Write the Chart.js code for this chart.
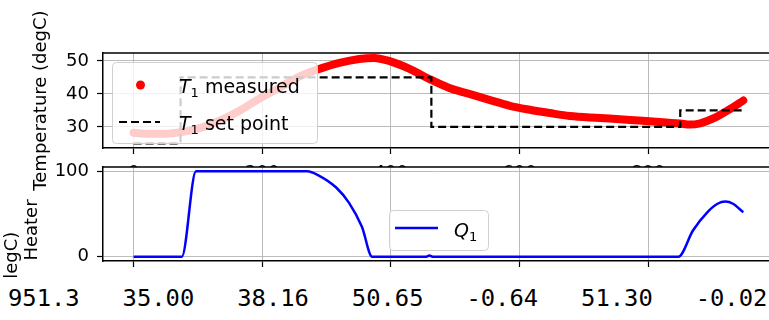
<!DOCTYPE html>
<html>
<head>
<meta charset="utf-8">
<script src="https://cdn.jsdelivr.net/npm/chart.js@4.4.1/dist/chart.umd.min.js"></script>
<style>
html,body{margin:0;padding:0;background:#fff;}
#wrap{position:relative;width:769px;height:320px;overflow:hidden;background:#fff;}
#wrap canvas{position:absolute;left:0;top:0;}
#row{position:absolute;left:0;top:277px;width:761px;height:43px;padding:9px 0 0 8px;margin:0;background:#fff;font-family:"DejaVu Sans Mono",monospace;font-size:23.8px;line-height:24px;white-space:pre;color:#000;}
</style>
</head>
<body>
<div id="wrap">
  <canvas id="topChart" width="800" height="320"></canvas>
  <canvas id="botChart" width="800" height="320"></canvas>
  <div id="row"></div>
</div>
<script>
// ---------------- data ----------------
const t1Time = [0, 23, 47, 67, 86, 109, 133, 164, 195, 226, 257, 285, 320, 351, 374, 397, 429, 460, 491, 522, 553, 585, 616, 647, 678, 725, 772, 818, 850, 865, 881, 904, 928, 948];
const t1Meas = [28.2, 27.9, 27.9, 28.2, 28.8, 30.0, 31.8, 34.8, 38.5, 41.8, 45.2, 47.3, 49.4, 50.6, 50.9, 50.0, 47.6, 44.5, 41.8, 40.0, 38.2, 36.4, 35.2, 34.2, 33.3, 32.7, 32.1, 31.5, 31.0, 30.7, 31.1, 32.8, 35.5, 38.0];

const spTime = [0, 73, 73, 463, 463, 850, 850, 948];
const spVal  = [25, 25, 45, 45, 30, 30, 35, 35];

const q1Time = [0, 75, 97, 270, 288, 315, 335, 355, 371, 455, 460, 465, 847, 870, 892, 908, 920, 932, 948];
const q1Val  = [0, 0, 100, 100, 95, 81, 63, 35, 0, 0, 1.5, 0, 0, 31, 52, 62, 64.5, 62, 52];

const xTicks    = [0, 200, 400, 600, 800];
const tempTicks = [30, 40, 50];
const heatTicks = [0, 100];

const readouts = ['951.3', '35.00', '38.16', '50.65', '-0.64', '51.30', '-0.02'];

const labelT1  = ['T', '1', ' measured'];
const labelSP  = ['T', '1', ' set point'];
const labelQ1  = ['Q', '1', ''];
const yTitleTop = 'Temperature (degC)';
const yTitleBot = ['(degC)', 'Heater'];

// ---------------- helpers ----------------
const FONT = '"DejaVu Sans", sans-serif';
Chart.defaults.font.family = FONT;
Chart.defaults.font.size = 18;
Chart.defaults.color = '#000';

const pts = (xs, ys) => xs.map((x, i) => ({x, y: ys[i]}));
const GRID = 'rgba(176,176,176,0.85)';

function drawMath(ctx, parts, x, y, size) {
  ctx.fillStyle = '#000';
  ctx.textBaseline = 'alphabetic';
  ctx.textAlign = 'left';
  ctx.font = 'italic ' + size + 'px ' + FONT;
  ctx.fillText(parts[0], x, y);
  x += ctx.measureText(parts[0]).width;
  const ss = Math.round(size * 0.7);
  ctx.font = ss + 'px ' + FONT;
  ctx.fillText(parts[1], x, y + size * 0.2);
  x += ctx.measureText(parts[1]).width;
  ctx.font = size + 'px ' + FONT;
  ctx.fillText(parts[2], x, y);
}

function roundBox(ctx, x, y, w, h, r) {
  ctx.beginPath();
  ctx.moveTo(x + r, y);
  ctx.arcTo(x + w, y, x + w, y + h, r);
  ctx.arcTo(x + w, y + h, x, y + h, r);
  ctx.arcTo(x, y + h, x, y, r);
  ctx.arcTo(x, y, x + w, y, r);
  ctx.closePath();
}

function legendPlugin(spec) {
  return {
    id: 'mplLegend',
    afterDatasetsDraw(chart) {
      const ctx = chart.ctx, a = chart.chartArea;
      const bx = a.left + spec.dx, by = a.top + spec.dy;
      ctx.save();
      roundBox(ctx, bx + 0.5, by + 0.5, spec.w, spec.h, 4);
      ctx.fillStyle = 'rgba(255,255,255,0.8)';
      ctx.fill();
      ctx.strokeStyle = '#d0d0d0';
      ctx.lineWidth = 1;
      ctx.stroke();
      spec.rows.forEach(r => {
        const cy = by + r.cy;
        const x0 = bx + spec.h0, x1 = bx + spec.h1;
        if (r.kind === 'dot') {
          ctx.fillStyle = r.color;
          ctx.beginPath();
          ctx.arc((x0 + x1) / 2 + 1, cy, 4.5, 0, Math.PI * 2);
          ctx.fill();
        } else {
          ctx.strokeStyle = r.color;
          ctx.lineWidth = r.width;
          ctx.setLineDash(r.dash || []);
          ctx.beginPath();
          ctx.moveTo(x0, cy);
          ctx.lineTo(x1, cy);
          ctx.stroke();
          ctx.setLineDash([]);
        }
        drawMath(ctx, r.label, bx + spec.tx, cy + r.base, spec.size);
      });
      ctx.restore();
    }
  };
}

const framePlugin = {
  id: 'frame',
  beforeDraw(chart, args, opts) {
    if (opts && opts.fill) {
      const a = chart.chartArea, ctx = chart.ctx;
      ctx.save();
      ctx.fillStyle = '#fff';
      ctx.fillRect(a.left, a.top, a.right - a.left, a.bottom - a.top);
      ctx.restore();
    }
  },
  afterDraw(chart) {
    const a = chart.chartArea, ctx = chart.ctx;
    ctx.save();
    ctx.strokeStyle = '#000';
    ctx.lineWidth = 1.5;
    ctx.beginPath();
    ctx.moveTo(a.left, a.top);
    ctx.lineTo(a.right, a.top);
    ctx.lineTo(a.right, a.bottom);
    ctx.stroke();
    ctx.restore();
  }
};

// rotated side labels of the lower panel (two lines, staggered as in the reference)
const sideLabelPlugin = {
  id: 'sideLabels',
  afterDraw(chart) {
    const ctx = chart.ctx, a = chart.chartArea;
    const spots = [{x: 12, y: a.top + 95}, {x: 32, y: a.top + 63}];
    ctx.save();
    ctx.fillStyle = '#000';
    ctx.font = '18px ' + FONT;
    ctx.textAlign = 'center';
    ctx.textBaseline = 'middle';
    yTitleBot.forEach((txt, i) => {
      ctx.save();
      ctx.translate(spots[i].x, spots[i].y);
      ctx.rotate(-Math.PI / 2);
      ctx.fillText(txt, 0, 0);
      ctx.restore();
    });
    ctx.restore();
  }
};

function xScale(showLabels) {
  return {
    type: 'linear', min: -47.6, max: 998.9,
    afterBuildTicks: s => { s.ticks = xTicks.map(v => ({value: v})); },
    afterFit: s => { s.height = 60; },
    grid: {color: GRID, lineWidth: 1, tickLength: 6, tickColor: '#000', tickWidth: 1.2},
    border: {display: true, color: '#000', width: 1.5},
    ticks: {padding: 9, maxRotation: 0, autoSkip: false, color: showLabels ? '#000' : 'rgba(0,0,0,0)', font: {size: 18}}
  };
}

function yScale(min, max, ticks, title, titlePad) {
  return {
    type: 'linear', min, max,
    afterBuildTicks: s => { s.ticks = ticks.map(v => ({value: v})); },
    afterFit: s => { s.width = 103; },
    grid: {color: GRID, lineWidth: 1, tickLength: 6, tickColor: '#000', tickWidth: 1.2},
    border: {display: true, color: '#000', width: 1.5},
    ticks: {padding: 8, font: {size: 18}},
    title: {display: !!title, text: title || '', font: {size: 18}, padding: {top: titlePad, bottom: 0}, color: '#000'}
  };
}

// ---------------- top chart ----------------
new Chart(document.getElementById('topChart'), {
  type: 'line',
  data: {
    datasets: [
      {label: 'T1 set point', data: pts(spTime, spVal), borderColor: '#000', borderWidth: 2.2,
       borderDash: [8, 4], pointRadius: 0, tension: 0, order: 0},
      {label: 'T1 measured', data: pts(t1Time, t1Meas), borderColor: '#ff0000', borderWidth: 8,
       borderCapStyle: 'round', borderJoinStyle: 'round', pointRadius: 0,
       cubicInterpolationMode: 'monotone', order: 1}
    ]
  },
  options: {
    responsive: false, animation: false, devicePixelRatio: 1,
    layout: {padding: {left: 0, top: 53, right: 24, bottom: 112}},
    plugins: {legend: {display: false}, tooltip: {enabled: false}, frame: {fill: false}},
    scales: {
      x: xScale(true),
      y: yScale(23.6, 52.4, tempTicks, yTitleTop, 31)
    }
  },
  plugins: [framePlugin, legendPlugin({
    dx: 9, dy: 9, w: 205, h: 81, h0: 7, h1: 48, tx: 67, size: 19,
    rows: [
      {kind: 'dot', color: '#ff0000', cy: 23, base: 8, label: labelT1},
      {kind: 'line', color: '#000', width: 2.2, dash: [8, 4], cy: 60, base: 8, label: labelSP}
    ]
  })]
});

// ---------------- bottom chart ----------------
new Chart(document.getElementById('botChart'), {
  type: 'line',
  data: {
    datasets: [
      {label: 'Q1', data: pts(q1Time, q1Val), borderColor: '#0000ff', borderWidth: 2.5,
       pointRadius: 0, cubicInterpolationMode: 'monotone'}
    ]
  },
  options: {
    responsive: false, animation: false, devicePixelRatio: 1,
    layout: {padding: {left: 0, top: 167, right: 24, bottom: -1}},
    plugins: {legend: {display: false}, tooltip: {enabled: false}, frame: {fill: true}},
    scales: {
      x: xScale(false),
      y: yScale(-5, 105, heatTicks, null, 0)
    }
  },
  plugins: [framePlugin, sideLabelPlugin, legendPlugin({
    dx: 286, dy: 43, w: 99, h: 40, h0: 6, h1: 49, tx: 65, size: 19,
    rows: [
      {kind: 'line', color: '#0000ff', width: 2.5, cy: 18, base: 9, label: labelQ1}
    ]
  })]
});

document.getElementById('row').textContent = readouts.join('   ');
</script>
</body>
</html>
